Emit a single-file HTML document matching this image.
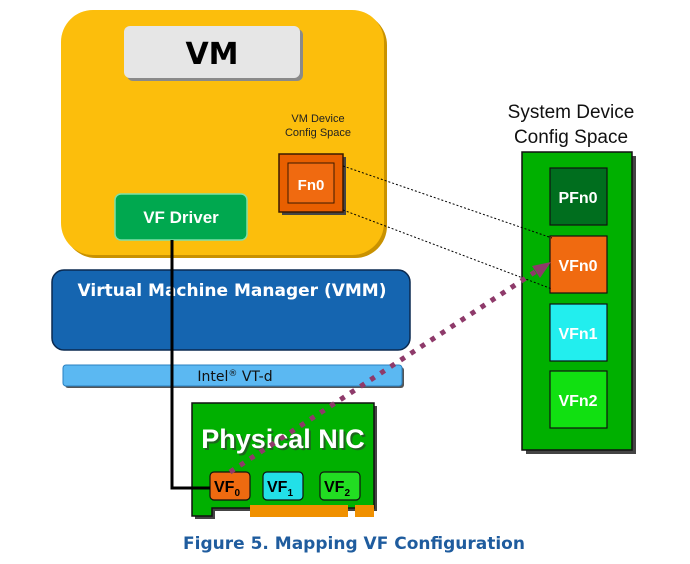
<!DOCTYPE html>
<html><head><meta charset="utf-8"><style>
html,body{margin:0;padding:0;background:#fff;}
svg{display:block;}
</style></head><body>
<svg width="690" height="564" viewBox="0 0 690 564" xmlns="http://www.w3.org/2000/svg" font-family="Liberation Sans, sans-serif">
<!-- VM -->
<rect x="64" y="13" width="323" height="245" rx="32" fill="#C99200"/>
<rect x="61" y="10" width="323" height="245" rx="32" fill="#FCBE0C"/>
<rect x="127" y="29" width="176" height="52" rx="6" fill="#8a8a8a"/>
<rect x="124" y="26" width="176" height="52" rx="6" fill="#E6E6E6"/>
<text x="212" y="64" font-family="DejaVu Sans, sans-serif" font-weight="bold" font-size="30" text-anchor="middle" fill="#000">VM</text>
<text x="318" y="122" font-size="11" text-anchor="middle" fill="#222">VM Device</text>
<text x="318" y="136" font-size="11" text-anchor="middle" fill="#222">Config Space</text>
<rect x="282" y="157" width="64" height="58" fill="#444"/>
<rect x="279" y="154" width="64" height="58" fill="#E85F00" stroke="#3a1a00" stroke-width="1.5"/>
<rect x="288" y="163" width="46" height="40" fill="#F06A10" stroke="#3a1a00" stroke-width="1"/>
<text x="311" y="190" font-size="15" font-weight="bold" text-anchor="middle" fill="#fff">Fn0</text>
<rect x="115" y="194" width="132" height="46" rx="6" fill="#00A84F" stroke="#7de0a8" stroke-width="1.5"/>
<text x="181" y="223" font-size="17" font-weight="bold" text-anchor="middle" fill="#fff">VF Driver</text>
<!-- VMM -->
<rect x="52" y="270" width="358" height="80" rx="12" fill="#1565B0" stroke="#0b2a50" stroke-width="1.5"/>
<text x="232" y="296" font-family="DejaVu Sans, sans-serif" font-size="17" font-weight="bold" text-anchor="middle" fill="#fff">Virtual Machine Manager (VMM)</text>
<!-- VT-d -->
<rect x="65" y="367" width="339" height="21" rx="3" fill="#555"/>
<rect x="63" y="365" width="339" height="21" rx="3" fill="#5BB8F2" stroke="#2a80c0" stroke-width="1"/>
<text x="235" y="381" font-family="DejaVu Sans, sans-serif" font-size="14" text-anchor="middle" fill="#111">Intel<tspan font-size="9" dy="-5">®</tspan><tspan dy="5"> VT-d</tspan></text>
<!-- NIC -->
<path d="M195,406 L377,406 L377,511 L255,511 L215,511 L215,519 L195,519 Z" fill="#444"/>
<path d="M192,403 L374,403 L374,508 L250,508 L212,508 L212,516 L192,516 Z" fill="#00B000" stroke="#111" stroke-width="1.5"/>
<rect x="250" y="505" width="98" height="12" fill="#F09000"/>
<rect x="355" y="505" width="19" height="12" fill="#F09000"/>
<text x="285" y="450" font-size="27" font-weight="bold" text-anchor="middle" fill="#333" opacity="0.6">Physical NIC</text>
<text x="283" y="448" font-size="27" font-weight="bold" text-anchor="middle" fill="#fff">Physical NIC</text>
<rect x="210" y="472" width="40" height="28" rx="4" fill="#EE6A10" stroke="#111" stroke-width="1.2"/>
<text x="227" y="492" font-size="16" font-weight="bold" text-anchor="middle" fill="#000">VF<tspan font-size="10" dy="4">0</tspan></text>
<rect x="263" y="472" width="40" height="28" rx="4" fill="#22E0E8" stroke="#111" stroke-width="1.2"/>
<text x="280" y="492" font-size="16" font-weight="bold" text-anchor="middle" fill="#000">VF<tspan font-size="10" dy="4">1</tspan></text>
<rect x="320" y="472" width="40" height="28" rx="4" fill="#22DD22" stroke="#111" stroke-width="1.2"/>
<text x="337" y="492" font-size="16" font-weight="bold" text-anchor="middle" fill="#000">VF<tspan font-size="10" dy="4">2</tspan></text>
<!-- black line -->
<polyline points="172,240 172,488 210,488" fill="none" stroke="#000" stroke-width="3"/>
<!-- System config -->
<text x="571" y="118" font-size="19" text-anchor="middle" fill="#111">System Device</text>
<text x="571" y="143" font-size="19" text-anchor="middle" fill="#111">Config Space</text>
<rect x="526" y="156" width="110" height="298" fill="#444"/>
<rect x="522" y="152" width="110" height="298" fill="#00B000" stroke="#111" stroke-width="1.5"/>
<rect x="550" y="168" width="57" height="57" fill="#006E1E" stroke="#111" stroke-width="1.2"/>
<text x="578" y="203" font-size="16" font-weight="bold" text-anchor="middle" fill="#fff">PFn0</text>
<rect x="550" y="236" width="57" height="57" fill="#F06A10" stroke="#111" stroke-width="1.2"/>
<text x="578" y="271" font-size="16" font-weight="bold" text-anchor="middle" fill="#fff">VFn0</text>
<rect x="550" y="304" width="57" height="57" fill="#22EEEE" stroke="#111" stroke-width="1.2"/>
<text x="578" y="339" font-size="16" font-weight="bold" text-anchor="middle" fill="#fff">VFn1</text>
<rect x="550" y="371" width="57" height="57" fill="#11E011" stroke="#111" stroke-width="1.2"/>
<text x="578" y="406" font-size="16" font-weight="bold" text-anchor="middle" fill="#fff">VFn2</text>
<!-- dotted lines -->
<line x1="343" y1="166" x2="552" y2="238" stroke="#000" stroke-width="1" stroke-dasharray="2,2"/>
<line x1="343" y1="210" x2="552" y2="289" stroke="#000" stroke-width="1" stroke-dasharray="2,2"/>
<!-- purple dashed -->
<line x1="230" y1="472" x2="538" y2="270" stroke="#8E3A6A" stroke-width="5" stroke-dasharray="5,7"/>
<polygon points="551,262 532,266 540,278" fill="#8E3A6A"/>
<!-- caption -->
<text x="354" y="549" font-family="DejaVu Sans, sans-serif" font-size="17" font-weight="bold" text-anchor="middle" fill="#1F5C9E">Figure 5. Mapping VF Configuration</text>
</svg>
</body></html>
